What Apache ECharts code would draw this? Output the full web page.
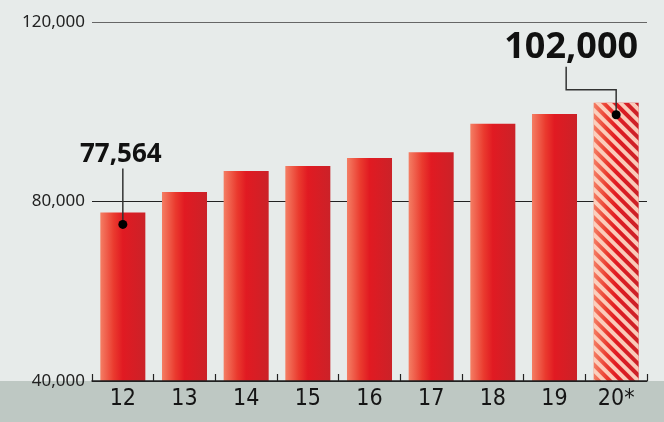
<!DOCTYPE html>
<html>
<head>
<meta charset="utf-8">
<script src="https://cdn.jsdelivr.net/npm/echarts@6/dist/echarts.min.js"></script>
<style>
html,body{margin:0;padding:0;background:#e7ebea;}
#chart{width:664px;height:422px;background:linear-gradient(to bottom,#e7ebea 0,#e7ebea 381px,#bec8c3 381px,#bec8c3 422px);}
</style>
</head>
<body>
<div id="chart"></div>
<script>
var categories = ['12','13','14','15','16','17','18','19','20*'];
var values = [77564, 82100, 86800, 87900, 89700, 91000, 97300, 99500, 102000];
var yTicks = [40000, 80000, 120000];
var annotations = [
  {index: 0, text: '77,564'},
  {index: 8, text: '102,000'}
];

var chart = echarts.init(document.getElementById('chart'), null, {renderer: 'canvas'});

function barGrad() {
  return new echarts.graphic.LinearGradient(0, 0, 1, 0, [
    {offset: 0, color: '#f47e64'},
    {offset: 0.3, color: '#ea3a2e'},
    {offset: 0.5, color: '#e11a22'},
    {offset: 1, color: '#cb2228'}
  ]);
}

var data = values.map(function (v, i) {
  var item = {value: v, itemStyle: {color: barGrad()}};
  if (i === values.length - 1) {
    item.itemStyle.decal = {
      symbol: 'rect',
      symbolSize: 1,
      dashArrayX: [1, 0],
      dashArrayY: [3.3, 3.3],
      rotation: Math.PI / 4,
      color: 'rgba(252,212,194,0.95)'
    };
  }
  return item;
});

var fontAxis = '"Noto Sans", "Open Sans", sans-serif';

chart.setOption({
  backgroundColor: 'transparent',
  animation: false,
  grid: {left: 92, right: 17, top: 22, bottom: 41},
  xAxis: {
    type: 'category',
    data: categories,
    axisLine: {show: true, lineStyle: {color: '#222', width: 1.5}},
    axisTick: {show: true, inside: true, length: 7, lineStyle: {color: '#222', width: 1.2}},
    axisLabel: {color: '#151515', fontSize: 23, fontFamily: '"Liberation Sans Narrow", "DejaVu Sans Condensed", "Noto Sans", sans-serif', margin: 7},
    z: 5
  },
  yAxis: {
    type: 'value',
    min: yTicks[0],
    max: yTicks[yTicks.length - 1],
    interval: yTicks[1] - yTicks[0],
    axisLine: {show: false},
    axisTick: {show: false},
    axisLabel: {
      color: '#222', fontSize: 17, fontFamily: fontAxis, margin: 7,
      formatter: function (v) { return v.toLocaleString('en-US'); }
    },
    splitLine: {show: true, lineStyle: {color: ['#222', '#222', '#666'], width: 1.2}}
  },
  series: [{
    type: 'bar',
    data: data,
    barCategoryGap: '27%',
    z: 2
  }]
});

// annotations positioned from data via the chart's own scales
var g = [];
annotations.forEach(function (a, k) {
  var p = chart.convertToPixel({seriesIndex: 0}, [a.index, values[a.index]]);
  var dot = [p[0], p[1] + 12];
  if (a.index === 0) {
    g.push({type: 'line', id: 'l' + k, z: 20, shape: {x1: dot[0], y1: dot[1], x2: dot[0], y2: p[1] - 44},
      style: {stroke: '#333', lineWidth: 1.5}});
    g.push({type: 'circle', id: 'c' + k, z: 21, shape: {cx: dot[0], cy: dot[1], r: 4.5}, style: {fill: '#000'}});
    g.push({type: 'text', id: 't' + k, z: 21, x: dot[0] - 2, y: p[1] - 58,
      style: {text: a.text, fill: '#111', font: 'bold 26px "Noto Sans", sans-serif', align: 'center', verticalAlign: 'middle'}});
  } else {
    var elbowY = p[1] - 13;
    var leftX = p[0] - 50;
    g.push({type: 'polyline', id: 'l' + k, z: 20, shape: {points: [[dot[0], dot[1]], [dot[0], elbowY], [leftX, elbowY], [leftX, p[1] - 36]]},
      style: {stroke: '#333', lineWidth: 1.5, fill: null}});
    g.push({type: 'circle', id: 'c' + k, z: 21, shape: {cx: dot[0], cy: dot[1], r: 4.5}, style: {fill: '#000'}});
    g.push({type: 'text', id: 't' + k, z: 21, x: leftX + 5, y: p[1] - 55,
      style: {text: a.text, fill: '#111', font: 'bold 36px "Noto Sans", sans-serif', align: 'center', verticalAlign: 'middle'}});
  }
});
chart.setOption({graphic: g});
</script>
</body>
</html>
